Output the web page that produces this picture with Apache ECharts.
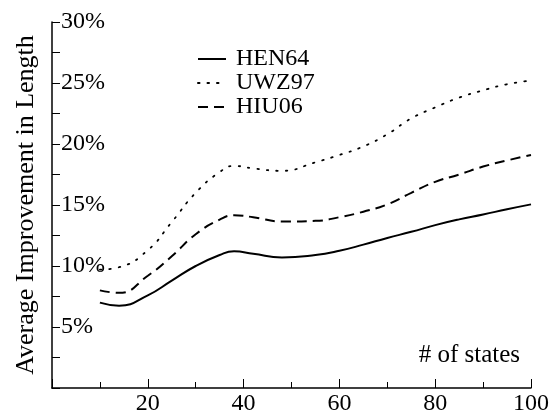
<!DOCTYPE html>
<html>
<head>
<meta charset="utf-8">
<script src="https://cdn.jsdelivr.net/npm/echarts@6/dist/echarts.min.js"></script>
<style>html,body{margin:0;padding:0;background:#fff}#c{width:552px;height:418px}</style>
</head>
<body>
<div id="c"></div>
<script>
const states = [10, 14, 20, 25, 30, 35, 38, 42, 48, 55, 60, 65, 70, 75, 80, 85, 90, 95, 100];
const hen64 = [7.0, 6.75, 7.6, 8.8, 10.0, 10.9, 11.2, 11.0, 10.7, 10.9, 11.25, 11.75, 12.3, 12.8, 13.35, 13.82, 14.22, 14.65, 15.05];
const uwz97 = [9.7, 9.9, 11.3, 13.6, 16.0, 17.7, 18.2, 18.0, 17.8, 18.5, 19.1, 19.8, 20.8, 22.1, 23.0, 23.8, 24.4, 24.9, 25.2];
const hiu06 = [8.0, 7.8, 9.2, 10.8, 12.6, 13.8, 14.15, 14.0, 13.65, 13.7, 14.0, 14.45, 15.05, 16.0, 16.9, 17.5, 18.15, 18.65, 19.1];
const seriesNames = ['HEN64', 'UWZ97', 'HIU06'];
const yTicks = [5, 10, 15, 20, 25, 30];
const xTicks = [20, 40, 60, 80, 100];

const FONT = 'Liberation Serif';
function pairs(ys) { return states.map((x, i) => [x, ys[i]]); }

const chart = echarts.init(document.getElementById('c'), null, {renderer: 'canvas'});
chart.setOption({
  animation: false,
  backgroundColor: '#fff',
  textStyle: {fontFamily: FONT, color: '#000'},
  grid: {left: 52, right: 19, top: 22, bottom: 30, containLabel: false},
  legend: {
    orient: 'vertical', left: 192, top: 42, itemGap: 0,
    itemWidth: 28, itemHeight: 14,
    data: seriesNames,
    itemStyle: {opacity: 0},
    textStyle: {fontFamily: FONT, fontSize: 24, color: '#000', lineHeight: 24, padding: [0, 0, 0, 5]}
  },
  xAxis: {
    type: 'value', min: 0, max: 100, interval: 20,
    name: '# of states', nameLocation: 'end', nameGap: -11,
    nameTextStyle: {fontFamily: FONT, fontSize: 25, color: '#000', align: 'right', verticalAlign: 'bottom', padding: [0, 0, 20, 0]},
    axisLine: {show: true, onZero: false, lineStyle: {color: '#000', width: 1.5}},
    axisTick: {show: true, inside: true, length: 9, lineStyle: {color: '#000', width: 1}},
    minorTick: {show: true, splitNumber: 2, length: 6, lineStyle: {color: '#000', width: 1}},
    splitLine: {show: false},
    axisLabel: {
      fontFamily: FONT, fontSize: 24, color: '#000', margin: 4,
      formatter: v => (xTicks.indexOf(v) >= 0 ? String(v) : '')
    }
  },
  yAxis: {
    type: 'value', min: 0, max: 30, interval: 2.5,
    name: 'Average Improvement in Length', nameLocation: 'middle', nameGap: 13, nameRotate: 90,
    nameTextStyle: {fontFamily: FONT, fontSize: 26, color: '#000'},
    axisLine: {show: true, lineStyle: {color: '#000', width: 1.5}},
    axisTick: {show: true, inside: true, length: 8, lineStyle: {color: '#000', width: 1}},
    splitLine: {show: false},
    axisLabel: {
      inside: true, fontFamily: FONT, fontSize: 24, color: '#000', margin: 9,
      formatter: v => (yTicks.indexOf(v) >= 0 ? v + '%' : '')
    }
  },
  series: [
    {name: seriesNames[0], type: 'line', data: pairs(hen64), smooth: true, symbol: 'none',
     lineStyle: {color: '#000', width: 2, type: 'solid'}, itemStyle: {color: '#000'}},
    {name: seriesNames[1], type: 'line', data: pairs(uwz97), smooth: true, symbol: 'none',
     lineStyle: {color: '#000', width: 1.8, type: [1.5, 8], cap: 'round'}, itemStyle: {color: '#000'}},
    {name: seriesNames[2], type: 'line', data: pairs(hiu06), smooth: true, symbol: 'none',
     lineStyle: {color: '#000', width: 2, type: [10, 6]}, itemStyle: {color: '#000'}}
  ]
});
</script>
</body>
</html>
